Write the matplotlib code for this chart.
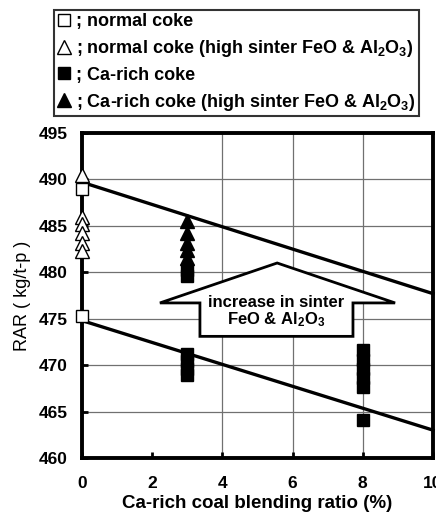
import matplotlib
matplotlib.use("Agg")
import matplotlib.pyplot as plt
from matplotlib.lines import Line2D
from matplotlib.patches import Polygon

plt.rcParams['font.family'] = ['Liberation Sans', 'DejaVu Sans']
plt.rcParams['mathtext.fontset'] = 'custom'
plt.rcParams['mathtext.bf'] = 'Liberation Sans:bold'
plt.rcParams['mathtext.rm'] = 'Liberation Sans:bold'
plt.rcParams['mathtext.default'] = 'bf'

# ---- data ----
normal_x = [0, 0]
normal_y = [489.0, 475.3]
normal_hi_x = [0, 0, 0, 0, 0, 0]
normal_hi_y = [490.5, 486.0, 485.2, 484.2, 483.2, 482.3]
ca_x = [3, 3, 3, 3, 3, 3, 8, 8, 8, 8, 8, 8]
ca_y = [480.2, 479.6, 471.2, 470.4, 469.6, 468.9, 471.6, 470.6, 469.6, 468.6, 467.6, 464.1]
ca_hi_x = [3, 3, 3, 3, 3]
ca_hi_y = [485.5, 484.2, 483.2, 482.4, 481.5]
upper_line_x = [0, 10]
upper_line_y = [489.7, 477.7]
lower_line_x = [0, 10]
lower_line_y = [474.8, 463.0]
arrow_x = [2.22, 5.56, 8.92, 7.72, 7.72, 3.36, 3.36]
arrow_y = [476.7, 481.0, 476.7, 476.7, 473.1, 473.1, 476.7]
xticks = [0, 2, 4, 6, 8, 10]
yticks = [460, 465, 470, 475, 480, 485, 490, 495]

fig = plt.figure(figsize=(4.36, 5.16), dpi=100)
ax = fig.add_axes([82/436, (516-458)/516, (433-82)/436, (458-133)/516])
ax.set_xlim(0, 10)
ax.set_ylim(460, 495)

# grid
for yv in yticks[1:-1]:
    ax.axhline(yv, color='#707070', lw=0.9, zorder=0)
for xv in [4, 6, 8]:
    ax.axvline(xv, color='#707070', lw=0.9, zorder=0)

ax.plot(upper_line_x, upper_line_y, color='black', lw=2.4, zorder=2, clip_on=False)
ax.plot(lower_line_x, lower_line_y, color='black', lw=2.4, zorder=2, clip_on=False)

ms = 9
ax.plot(normal_x, normal_y, 's', mfc='white', mec='black', mew=1.0, ms=ms, ls='none', zorder=4, clip_on=False)
ax.plot(normal_hi_x, normal_hi_y, '^', mfc='white', mec='black', mew=1.0, ms=ms+1, ls='none', zorder=5, clip_on=False)
ax.plot(ca_x, ca_y, 's', mfc='black', mec='black', ms=ms, ls='none', zorder=4)
ax.plot(ca_hi_x, ca_hi_y, '^', mfc='black', mec='black', ms=ms+1, ls='none', zorder=4)

poly = Polygon(list(zip(arrow_x, arrow_y)), closed=True, facecolor='white', edgecolor='black', lw=2.0, zorder=6)
ax.add_patch(poly)
ax.text(5.54, 476.7, 'increase in sinter', ha='center', va='center', fontsize=12, fontweight='bold', zorder=7)
ax.text(5.54, 474.9, r'FeO & Al$_2$O$_3$', ha='center', va='center', fontsize=12, fontweight='bold', zorder=7)

for s in ax.spines.values():
    s.set_linewidth(2.8)
ax.set_xticks(xticks)
ax.set_yticks(yticks)
ax.tick_params(direction='in', length=4, width=2, labelsize=12.5)
ax.tick_params(axis='x', pad=13)
ax.tick_params(axis='y', pad=10)
for lab in ax.get_xticklabels() + ax.get_yticklabels():
    lab.set_fontweight('bold')
ax.set_xlabel('Ca-rich coal blending ratio (%)', fontsize=13.5, fontweight='bold', labelpad=3)
ax.set_ylabel('RAR ( kg/t-p )', fontsize=13, labelpad=6)

handles = [
    Line2D([], [], marker='s', mfc='white', mec='black', mew=1.0, ms=9, ls='none'),
    Line2D([], [], marker='^', mfc='white', mec='black', mew=1.0, ms=10, ls='none'),
    Line2D([], [], marker='s', mfc='black', mec='black', ms=9, ls='none'),
    Line2D([], [], marker='^', mfc='black', mec='black', ms=10, ls='none'),
]
labels = ['; normal coke',
          r'; normal coke (high sinter FeO & Al$_2$O$_3$)',
          '; Ca-rich coke',
          r'; Ca-rich coke (high sinter FeO & Al$_2$O$_3$)']
leg = fig.legend(handles, labels, loc='upper left', bbox_to_anchor=(54/436, 1 - 10/516),
                 frameon=True, fancybox=False, edgecolor='black', handlelength=0.8,
                 handletextpad=0.25, borderpad=0.18, labelspacing=0.43, borderaxespad=0,
                 prop={'weight': 'bold', 'size': 13})
leg.get_frame().set_linewidth(1.5)

fig.savefig('out.png', dpi=100)
